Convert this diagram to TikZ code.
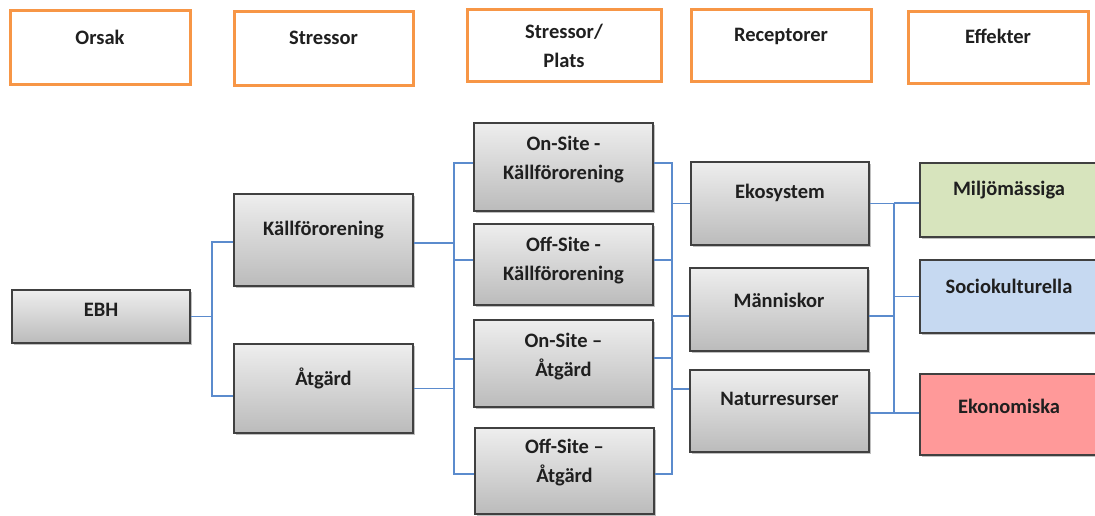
\documentclass[tikz,border=0pt]{standalone}
\usepackage{fontspec}
\setmainfont{Carlito}
\usetikzlibrary{shadows,calc}
\definecolor{gtop}{HTML}{EEEEEE}
\definecolor{gbot}{HTML}{BBBBBB}
\definecolor{bordc}{HTML}{404040}
\definecolor{orangec}{HTML}{F79646}
\definecolor{connc}{HTML}{5B8BCD}
\definecolor{greenc}{HTML}{D7E4BD}
\definecolor{bluec}{HTML}{C6D9F1}
\definecolor{redc}{HTML}{FF9999}
\tikzset{
  hbox/.style={draw=orangec, line width=3pt, fill=white, inner sep=0pt},
  gbox/.style={draw=bordc, line width=1.2pt, top color=gtop, bottom color=gbot, inner sep=0pt,
    drop shadow={shadow xshift=1.5pt, shadow yshift=-2pt, fill=black, opacity=0.25}},
  cbox/.style={draw=bordc, line width=1.2pt, fill=#1, inner sep=0pt,
    drop shadow={shadow xshift=1.5pt, shadow yshift=-2pt, fill=black, opacity=0.25}},
  txt/.style={font=\fontsize{20.5}{29}\selectfont\bfseries, text=black!88, align=center, inner sep=0pt},
  conn/.style={draw=connc, line width=1.7pt},
}
\begin{document}
\begin{tikzpicture}[x=1pt,y=-1pt]
\useasboundingbox (0,0) rectangle (1095,516);
% header boxes
\node[hbox, minimum width=180pt, minimum height=74pt] (h1) at (100,48) {};
\node[txt] (h1t) at ([yshift=11pt]h1.center) {Orsak};
\node[hbox, minimum width=179pt, minimum height=74pt] (h2) at (323.5,49) {};
\node[txt] (h2t) at ([yshift=11pt]h2.center) {Stressor};
\node[hbox, minimum width=194pt, minimum height=72pt] (h3) at (564,46) {};
\node[txt] (h3t) at ([yshift=0.5pt]h3.center) {Stressor/\\Plats};
\node[hbox, minimum width=180pt, minimum height=72pt] (h4) at (781,46) {};
\node[txt] (h4t) at ([yshift=10pt]h4.center) {Receptorer};
\node[hbox, minimum width=180pt, minimum height=72pt] (h5) at (998,48) {};
\node[txt] (h5t) at ([yshift=12pt]h5.center) {Effekter};
% gray boxes
\node[gbox, minimum width=178pt, minimum height=53pt] (ebh) at (101,316.5) {};
\node[txt] (ebht) at ([yshift=6.5pt]ebh.center) {EBH};
\node[gbox, minimum width=179pt, minimum height=92pt] (kf) at (323.5,240) {};
\node[txt] (kft) at ([yshift=10pt]kf.center) {Källförorening};
\node[gbox, minimum width=179pt, minimum height=89pt] (at) at (323.5,388.5) {};
\node[txt] (att) at ([yshift=10.5pt]at.center) {Åtgärd};
\node[gbox, minimum width=179pt, minimum height=88pt] (onk) at (563.5,167) {};
\node[txt] (onkt) at ([yshift=7.5pt]onk.center) {On-Site -\\Källförorening};
\node[gbox, minimum width=179pt, minimum height=81pt] (offk) at (563.5,264.5) {};
\node[txt] (offkt) at ([yshift=4pt]offk.center) {Off-Site -\\Källförorening};
\node[gbox, minimum width=179pt, minimum height=87pt] (ona) at (563.5,363.5) {};
\node[txt] (onat) at ([yshift=6.5pt]ona.center) {On-Site –\\Åtgärd};
\node[gbox, minimum width=179pt, minimum height=86pt] (offa) at (564.5,471) {};
\node[txt] (offat) at ([yshift=8pt]offa.center) {Off-Site –\\Åtgärd};
\node[gbox, minimum width=178pt, minimum height=83pt] (eko) at (780,203.5) {};
\node[txt] (ekot) at ([yshift=10.5pt]eko.center) {Ekosystem};
\node[gbox, minimum width=178pt, minimum height=83pt] (man) at (779,309.5) {};
\node[txt] (mant) at ([yshift=9.5pt]man.center) {Människor};
\node[gbox, minimum width=179pt, minimum height=82pt] (nat) at (779.5,411) {};
\node[txt] (natt) at ([yshift=12pt]nat.center) {Naturresurser};
% coloured boxes
\node[cbox=greenc, minimum width=178pt, minimum height=74pt] (mil) at (1009,200) {};
\node[txt] (milt) at ([yshift=10pt]mil.center) {Miljömässiga};
\node[cbox=bluec, minimum width=178pt, minimum height=73pt] (soc) at (1009,296.5) {};
\node[txt] (soct) at ([yshift=10.5pt]soc.center) {Sociokulturella};
\node[cbox=redc, minimum width=178pt, minimum height=81pt] (ekn) at (1009,414.5) {};
\node[txt] (eknt) at ([yshift=8.5pt]ekn.center) {Ekonomiska};
% junctions
\coordinate (j1) at (212,317);
\coordinate (j2) at (454,300);
\coordinate (j3) at (672,300);
\coordinate (j4) at (894,300);
% connectors stage 1
\draw[conn] (ebh.east) -- (ebh.east -| j1);
\draw[conn] ([yshift=-2pt]kf.west) -| (j1) |- ([yshift=-7.5pt]at.west);
% stage 2
\draw[conn] ([yshift=-3pt]kf.east) -- ([yshift=-3pt]kf.east -| j2);
\draw[conn] (at.east) -- (at.east -| j2);
\draw[conn] ([yshift=4pt]onk.west) -| (j2) |- ([yshift=-3pt]offa.west);
\draw[conn] ([yshift=4.5pt]offk.west) -- ([yshift=4.5pt]offk.west -| j2);
\draw[conn] ([yshift=4.5pt]ona.west) -- ([yshift=4.5pt]ona.west -| j2);
% stage 3
\draw[conn] ([yshift=4pt]onk.east) -| (j3) |- ([yshift=-3pt]offa.east);
\draw[conn] ([yshift=4.5pt]offk.east) -- ([yshift=4.5pt]offk.east -| j3);
\draw[conn] ([yshift=5.5pt]ona.east) -- ([yshift=5.5pt]ona.east -| j3);
\draw[conn] (eko.west) -- (eko.west -| j3);
\draw[conn] ([yshift=-6.5pt]man.west) -- ([yshift=-6.5pt]man.west -| j3);
\draw[conn] ([yshift=22pt]nat.west) -- ([yshift=22pt]nat.west -| j3);
% stage 4
\draw[conn] (eko.east) -| (j4) |- ([yshift=-2pt]nat.east);
\draw[conn] ([yshift=-6.5pt]man.east) -- ([yshift=-6.5pt]man.east -| j4);
\draw[conn] ([yshift=-3pt]mil.west) -- ([yshift=-3pt]mil.west -| j4);
\draw[conn] (soc.west) -- (soc.west -| j4);
\draw[conn] ([yshift=1.5pt]ekn.west) -- ([yshift=1.5pt]ekn.west -| j4);
\end{tikzpicture}
\end{document}
